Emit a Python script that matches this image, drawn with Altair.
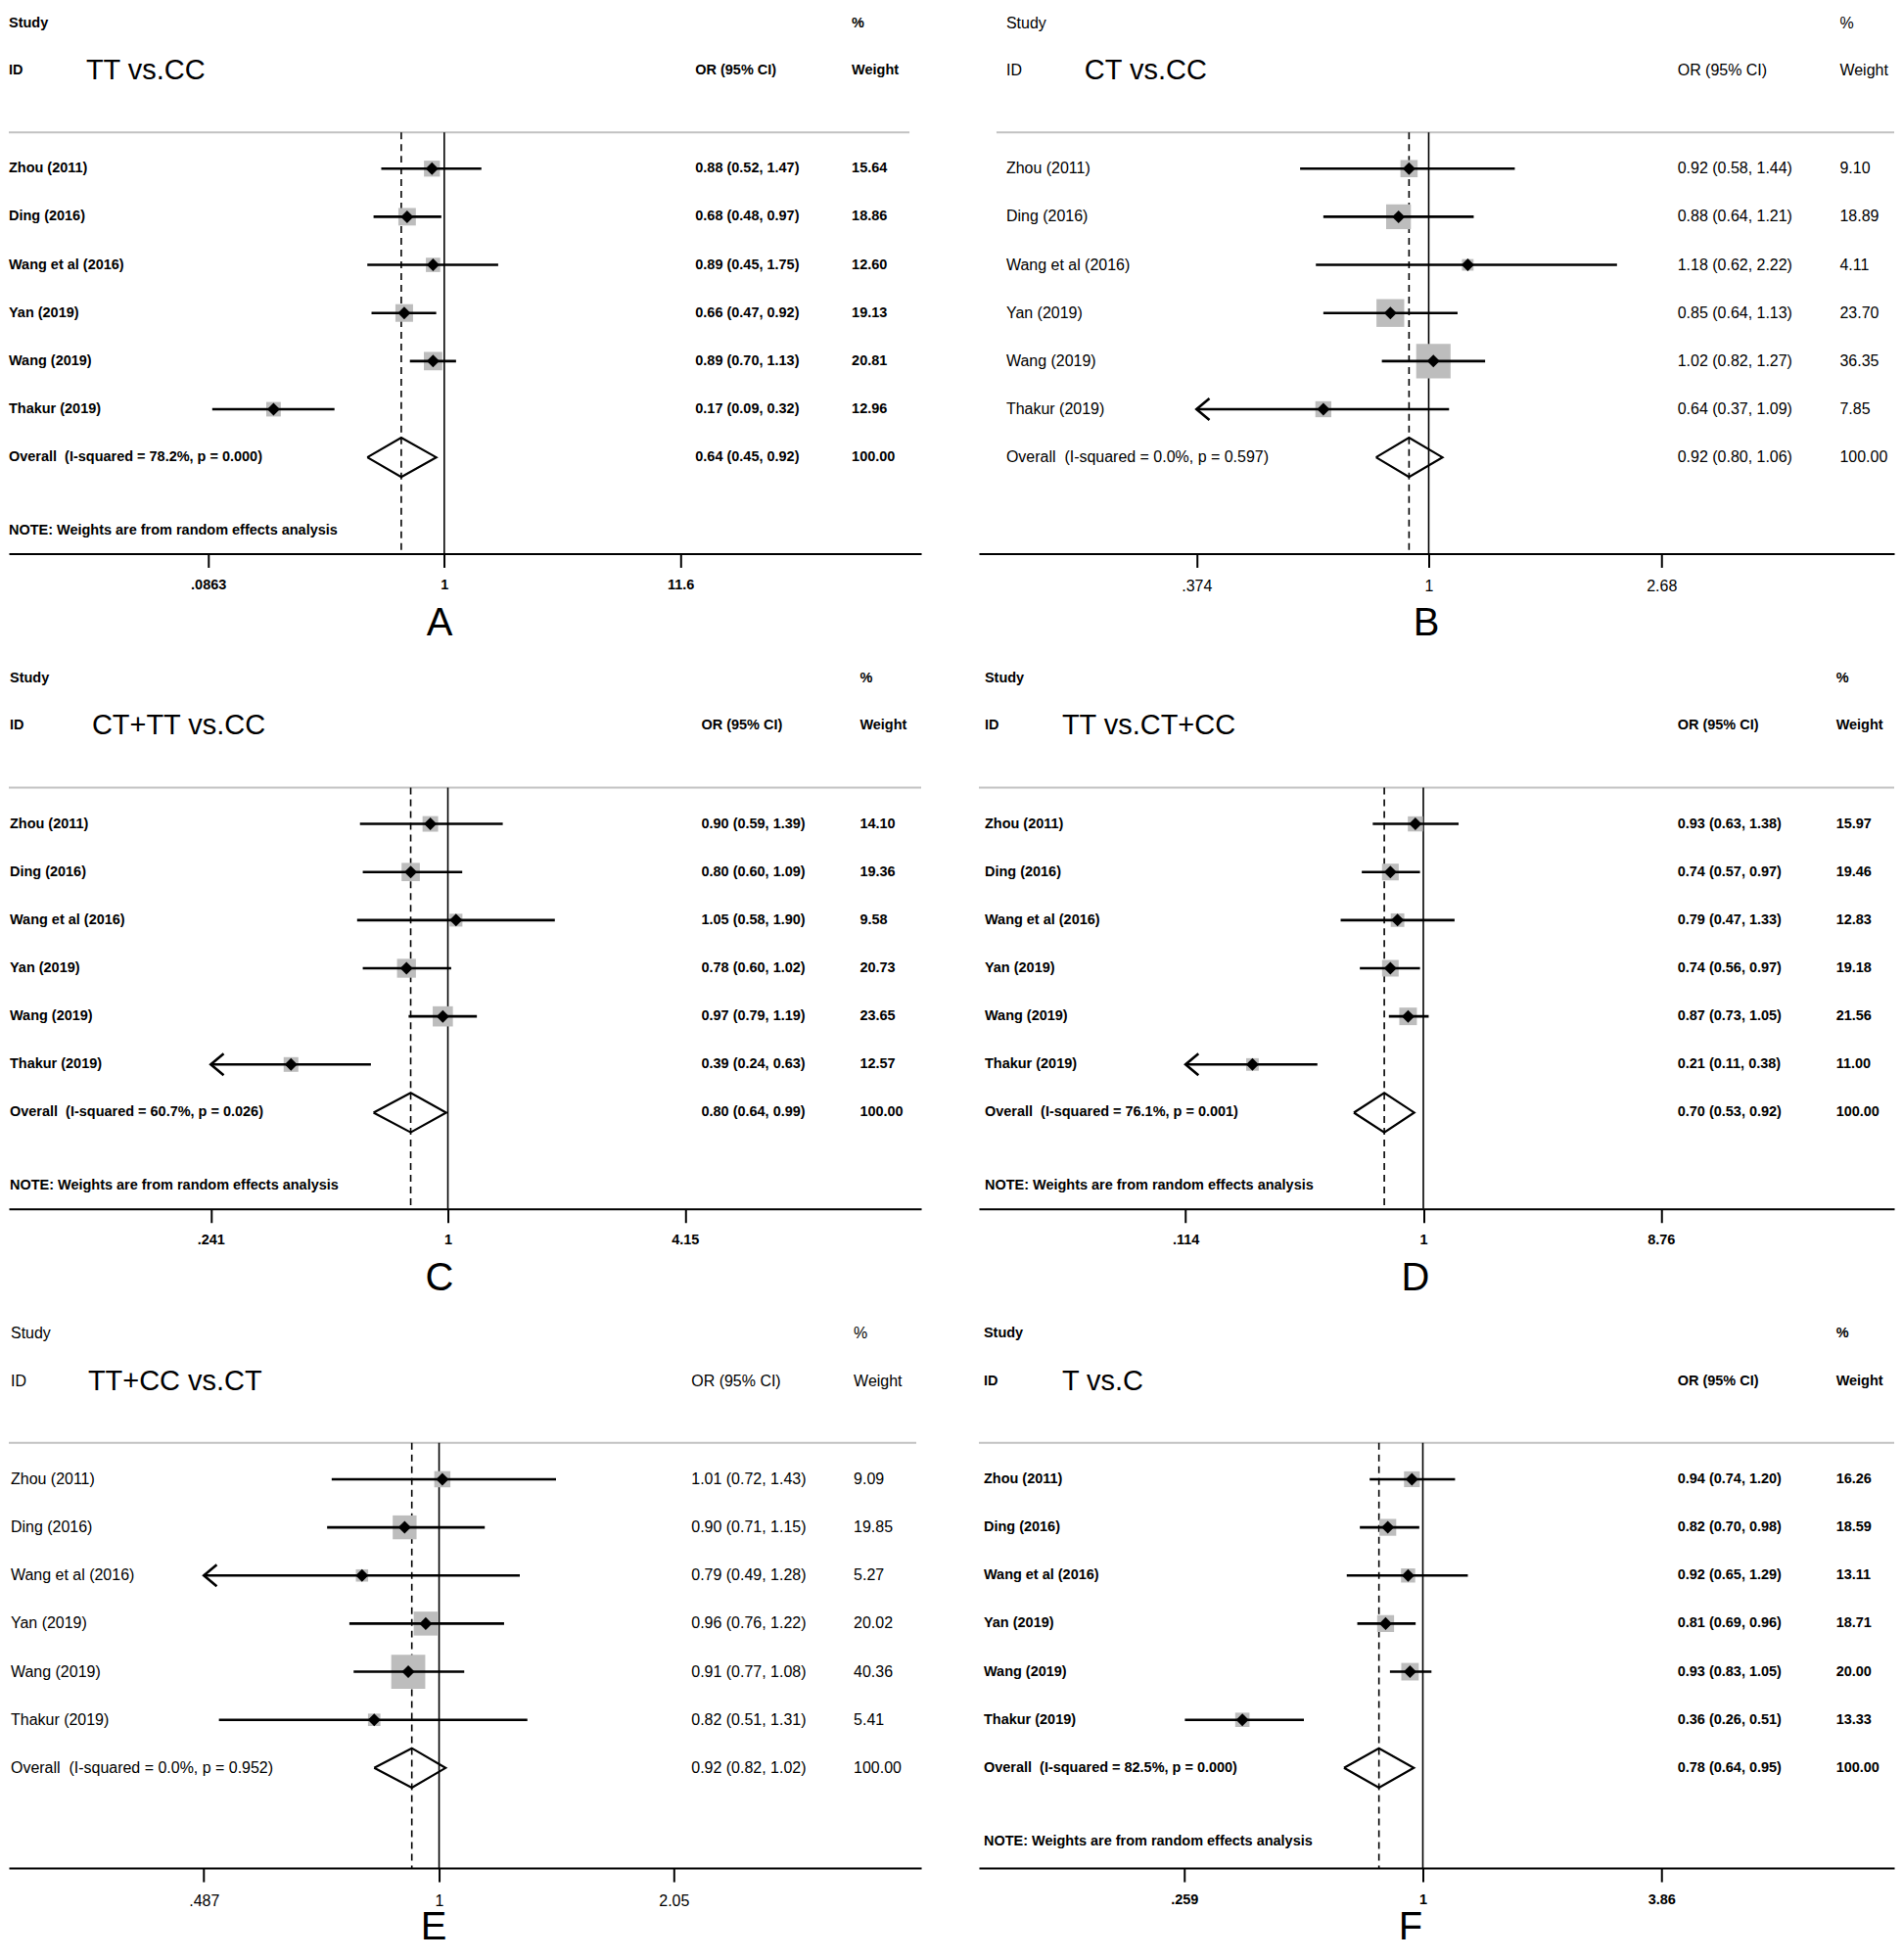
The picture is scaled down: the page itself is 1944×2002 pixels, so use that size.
import math
import altair as alt
import pandas as pd

# ---------------- data ----------------
studies = ["Zhou (2011)", "Ding (2016)", "Wang et al (2016)", "Yan (2019)", "Wang (2019)", "Thakur (2019)"]

a_or = [0.88, 0.68, 0.89, 0.66, 0.89, 0.17]
a_lo = [0.52, 0.48, 0.45, 0.47, 0.70, 0.09]
a_hi = [1.47, 0.97, 1.75, 0.92, 1.13, 0.32]
a_w = [15.64, 18.86, 12.60, 19.13, 20.81, 12.96]
a_overall = [0.64, 0.45, 0.92]
a_het = ["78.2%", "0.000"]
a_ticks = [0.0863, 1, 11.6]
a_arrow = [0, 0, 0, 0, 0, 0]

b_or = [0.92, 0.88, 1.18, 0.85, 1.02, 0.64]
b_lo = [0.58, 0.64, 0.62, 0.64, 0.82, 0.37]
b_hi = [1.44, 1.21, 2.22, 1.13, 1.27, 1.09]
b_w = [9.10, 18.89, 4.11, 23.70, 36.35, 7.85]
b_overall = [0.92, 0.80, 1.06]
b_het = ["0.0%", "0.597"]
b_ticks = [0.374, 1, 2.68]
b_arrow = [0, 0, 0, 0, 0, 1]

c_or = [0.90, 0.80, 1.05, 0.78, 0.97, 0.39]
c_lo = [0.59, 0.60, 0.58, 0.60, 0.79, 0.24]
c_hi = [1.39, 1.09, 1.90, 1.02, 1.19, 0.63]
c_w = [14.10, 19.36, 9.58, 20.73, 23.65, 12.57]
c_overall = [0.80, 0.64, 0.99]
c_het = ["60.7%", "0.026"]
c_ticks = [0.241, 1, 4.15]
c_arrow = [0, 0, 0, 0, 0, 1]

d_or = [0.93, 0.74, 0.79, 0.74, 0.87, 0.21]
d_lo = [0.63, 0.57, 0.47, 0.56, 0.73, 0.11]
d_hi = [1.38, 0.97, 1.33, 0.97, 1.05, 0.38]
d_w = [15.97, 19.46, 12.83, 19.18, 21.56, 11.00]
d_overall = [0.70, 0.53, 0.92]
d_het = ["76.1%", "0.001"]
d_ticks = [0.114, 1, 8.76]
d_arrow = [0, 0, 0, 0, 0, 1]

e_or = [1.01, 0.90, 0.79, 0.96, 0.91, 0.82]
e_lo = [0.72, 0.71, 0.49, 0.76, 0.77, 0.51]
e_hi = [1.43, 1.15, 1.28, 1.22, 1.08, 1.31]
e_w = [9.09, 19.85, 5.27, 20.02, 40.36, 5.41]
e_overall = [0.92, 0.82, 1.02]
e_het = ["0.0%", "0.952"]
e_ticks = [0.487, 1, 2.05]
e_arrow = [0, 0, 1, 0, 0, 0]

f_or = [0.94, 0.82, 0.92, 0.81, 0.93, 0.36]
f_lo = [0.74, 0.70, 0.65, 0.69, 0.83, 0.26]
f_hi = [1.20, 0.98, 1.29, 0.96, 1.05, 0.51]
f_w = [16.26, 18.59, 13.11, 18.71, 20.00, 13.33]
f_overall = [0.78, 0.64, 0.95]
f_het = ["82.5%", "0.000"]
f_ticks = [0.259, 1, 3.86]
f_arrow = [0, 0, 0, 0, 0, 0]

titles = ["TT vs.CC", "CT vs.CC", "CT+TT vs.CC", "TT vs.CT+CC", "TT+CC vs.CT", "T vs.C"]
letters = ["A", "B", "C", "D", "E", "F"]
notes = [True, False, True, True, False, True]
note_text = "NOTE: Weights are from random effects analysis"

# ---------------- layout / style ----------------
FONT = "Liberation Sans"
ROW_PX = 49.2
SEP_ROW = 0.245
HALF_DIAMOND = 0.41
ARROW = "M1.2,-1L0,0L1.2,1"
LABEL_EXPR = "datum.value < 1 ? substring(toString(datum.value), 1) : toString(datum.value)"

LEFT_L, LEFT_R = 8, 941
RIGHT_L, RIGHT_R = 1000, 1936

layout = [
    dict(gx0=8, gx1=929, H=557, ymax=9.0, c=453.3, tickd=241.5, sx=8, tx=87, ox=710, wx=870, lx=448, ty=83, fs=14.5, fw="bold", box=17),
    dict(gx0=1018, gx1=1936, H=557, ymax=9.0, c=1460, tickd=238, sx=1028, tx=1108, ox=1714.5, wx=1880.4, lx=1457, ty=83, fs=16, fw="normal", box=34),
    dict(gx0=8, gx1=941, H=557, ymax=9.0, c=457, tickd=242.5, sx=9, tx=93, ox=716.2, wx=878.3, lx=448, ty=83, fs=14.5, fw="bold", box=18),
    dict(gx0=1000, gx1=1936, H=557, ymax=9.0, c=1454.5, tickd=243, sx=1006, tx=1085, ox=1714.5, wx=1876.6, lx=1446, ty=83, fs=14.5, fw="bold", box=15),
    dict(gx0=8, gx1=936, H=561, ymax=9.08, c=448, tickd=240, sx=10, tx=89, ox=706, wx=872, lx=442, ty=73, fs=16, fw="normal", box=30),
    dict(gx0=1000, gx1=1936, H=561, ymax=9.08, c=1454, tickd=244, sx=1005, tx=1085, ox=1714.5, wx=1876.6, lx=1441, ty=73, fs=14.5, fw="bold", box=16),
]

series = [
    (a_or, a_lo, a_hi, a_w, a_overall, a_het, a_ticks, a_arrow),
    (b_or, b_lo, b_hi, b_w, b_overall, b_het, b_ticks, b_arrow),
    (c_or, c_lo, c_hi, c_w, c_overall, c_het, c_ticks, c_arrow),
    (d_or, d_lo, d_hi, d_w, d_overall, d_het, d_ticks, d_arrow),
    (e_or, e_lo, e_hi, e_w, e_overall, e_het, e_ticks, e_arrow),
    (f_or, f_lo, f_hi, f_w, f_overall, f_het, f_ticks, f_arrow),
]


def fmt_ci(o, lo, hi):
    return f"{o:.2f} ({lo:.2f}, {hi:.2f})"


def build_panel(i):
    ors, los, his, ws, ov, het, ticks, arrows = series[i]
    p = layout[i]
    L, R = (LEFT_L, LEFT_R) if i % 2 == 0 else (RIGHT_L, RIGHT_R)
    H, ymax = p["H"], p["ymax"]
    W = R - L
    ymin = ymax - H / ROW_PX
    lnk = math.log(ticks[2])
    dmin = math.exp((L - p["c"]) / p["tickd"] * lnk)
    dmax = math.exp((R - p["c"]) / p["tickd"] * lnk)
    xs = alt.Scale(type="log", domain=[dmin, dmax], nice=False)
    ys = alt.Scale(domain=[ymin, ymax], reverse=True, nice=False, zero=False)
    xaxis = alt.Axis(
        values=ticks, labelExpr=LABEL_EXPR, title=letters[i], grid=False,
        domainColor="black", domainWidth=2, tickColor="black", tickWidth=2, tickSize=14,
        labelFont=FONT, labelFontSize=p["fs"], labelFontWeight=p["fw"], labelColor="black",
        labelPadding=11, labelFlush=False, labelOverlap=False,
        titleFont=FONT, titleFontSize=40, titleFontWeight="normal", titleColor="black",
        titleX=p["lx"] - L, titleY=p["ty"], titleAlign="center", titleBaseline="alphabetic",
    )

    def X(f):
        return alt.X(f, type="quantitative", scale=xs, axis=xaxis)

    def Y(f):
        return alt.Y(f, type="quantitative", scale=ys, axis=None)

    n = len(studies)
    rows = list(range(1, n + 1))
    lo_draw = [ticks[0] if a else lo for lo, a in zip(los, arrows)]
    df = pd.DataFrame({
        "study": studies, "row": rows, "or": ors, "lo": los, "lo_draw": lo_draw, "hi": his,
        "box": [w * p["box"] for w in ws], "arrow": arrows,
        "ci": [fmt_ci(o, lo, hi) for o, lo, hi in zip(ors, los, his)],
        "wt": [f"{w:.2f}" for w in ws],
    })
    orow = n + 1
    layers = []
    layers.append(alt.Chart(pd.DataFrame({"r": [SEP_ROW]})).mark_rule(color="#c2c2c2", strokeWidth=2).encode(
        x=alt.value(p["gx0"] - L), x2=alt.value(p["gx1"] - L), y=Y("r")))
    vl = pd.DataFrame({"x": [1.0], "r0": [SEP_ROW], "r1": [ymax]})
    layers.append(alt.Chart(vl).mark_rule(color="black", strokeWidth=1.6).encode(
        x=X("x"), y=Y("r0"), y2=alt.Y2("r1")))
    dl = pd.DataFrame({"x": [ov[0]], "r0": [SEP_ROW], "r1": [ymax]})
    layers.append(alt.Chart(dl).mark_rule(color="black", strokeWidth=1.6, strokeDash=[7, 5]).encode(
        x=X("x"), y=Y("r0"), y2=alt.Y2("r1")))
    layers.append(alt.Chart(df).mark_square(filled=True, color="#bdbdbd", opacity=1).encode(
        x=X("or"), y=Y("row"), size=alt.Size("box:Q", scale=None)))
    layers.append(alt.Chart(df).mark_rule(color="black", strokeWidth=2.6).encode(
        x=X("lo_draw"), x2=alt.X2("hi"), y=Y("row")))
    layers.append(alt.Chart(df).mark_point(shape="diamond", filled=True, color="black", size=170, opacity=1).encode(
        x=X("or"), y=Y("row")))
    if any(arrows):
        layers.append(alt.Chart(df[df["arrow"] == 1]).mark_point(
            shape=ARROW, filled=False, color="black", strokeWidth=2.6, size=484, opacity=1,
            strokeJoin="miter").encode(x=X("lo_draw"), y=Y("row")))
    dia = pd.DataFrame({
        "x": [ov[1], ov[0], ov[2], ov[0], ov[1]],
        "y": [orow, orow - HALF_DIAMOND, orow, orow + HALF_DIAMOND, orow],
        "o": [0, 1, 2, 3, 4],
    })
    layers.append(alt.Chart(dia).mark_line(color="black", strokeWidth=2.2, strokeJoin="miter").encode(
        x=X("x"), y=Y("y"), order=alt.Order("o:Q")))

    def text(data, xpx, field, size=None, weight=None):
        return alt.Chart(data).mark_text(
            align="left", baseline="middle", font=FONT, fontSize=size or p["fs"],
            fontWeight=weight or p["fw"], color="black").encode(
            x=alt.value(xpx - L), y=Y("row"), text=alt.Text(field, type="nominal"))

    study_df = pd.DataFrame({
        "row": [-2.02, -1.04] + rows + [orow] + ([8.52] if notes[i] else []),
        "label": ["Study", "ID"] + studies + [f"Overall\u00a0 (I-squared = {het[0]}, p = {het[1]})"]
                 + ([note_text] if notes[i] else []),
    })
    layers.append(text(study_df, p["sx"], "label"))
    layers.append(text(pd.DataFrame({"row": [-1.04], "label": [titles[i]]}), p["tx"], "label", 29, "normal"))
    ci_df = pd.DataFrame({"row": [-1.04] + rows + [orow],
                          "label": ["OR (95% CI)"] + list(df["ci"]) + [fmt_ci(*ov)]})
    layers.append(text(ci_df, p["ox"], "label"))
    w_df = pd.DataFrame({"row": [-2.02, -1.04] + rows + [orow],
                         "label": ["%", "Weight"] + list(df["wt"]) + ["100.00"]})
    layers.append(text(w_df, p["wx"], "label"))

    return alt.layer(*layers).properties(width=W, height=H)


panels = [build_panel(i) for i in range(6)]
chart = alt.concat(
    *panels, columns=2, spacing={"row": 113, "column": RIGHT_L - LEFT_R}, bounds="flush"
).properties(padding=0, background="white").configure_view(stroke=None)

chart.save("out.html", embed_options={"renderer": "svg", "actions": False})
